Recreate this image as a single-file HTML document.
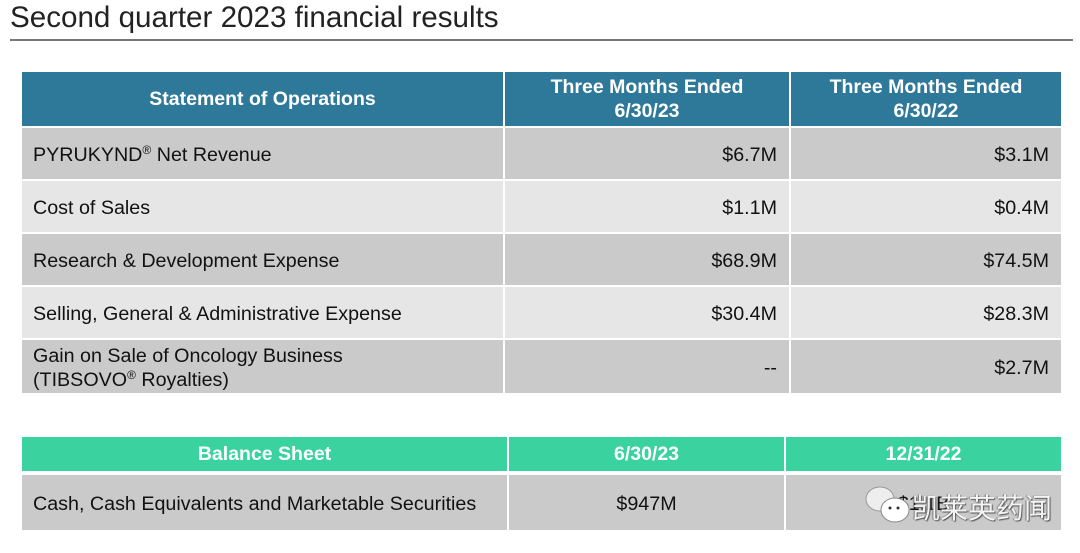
<!DOCTYPE html>
<html><head><meta charset="utf-8"><style>
body{margin:0;width:1080px;height:553px;background:#fff;position:relative;overflow:hidden;font-family:"Liberation Sans","Noto Sans CJK SC",sans-serif;}
.a{position:absolute;box-sizing:border-box;}
.h{color:#fff;font-weight:bold;font-size:19.5px;display:flex;align-items:center;justify-content:center;text-align:center;line-height:24px;}
.c{color:#111;font-size:19.7px;display:flex;align-items:center;line-height:24px;padding-top:3px;}
.l{padding-left:11px;}
.r{justify-content:flex-end;padding-right:12px;}
.m{justify-content:center;}
.b{background:#2e7899;}
.g{background:#3ad39f;}
.d{background:#cacaca;}
.e{background:#e6e6e6;}
sup{font-size:12px;vertical-align:7px;line-height:0;}
</style></head><body>
<div class="a" style="left:10px;top:1px;font-size:29.6px;color:#222;">Second quarter 2023 financial results</div>
<div class="a" style="left:10px;top:39px;width:1063px;height:2px;background:#777;"></div>

<div>
<div class="a h b" style="left:22px;top:72px;width:481px;height:54px;">Statement of Operations</div>
<div class="a h b" style="left:505px;top:72px;width:284px;height:54px;"><span>Three Months Ended<br>6/30/23</span></div>
<div class="a h b" style="left:791px;top:72px;width:270px;height:54px;"><span>Three Months Ended<br>6/30/22</span></div>

<div class="a c l d" style="left:22px;top:128px;width:481px;height:51px;"><span>PYRUKYND<sup>®</sup> Net Revenue</span></div>
<div class="a c r d" style="left:505px;top:128px;width:284px;height:51px;">$6.7M</div>
<div class="a c r d" style="left:791px;top:128px;width:270px;height:51px;">$3.1M</div>

<div class="a c l e" style="left:22px;top:181px;width:481px;height:51px;">Cost of Sales</div>
<div class="a c r e" style="left:505px;top:181px;width:284px;height:51px;">$1.1M</div>
<div class="a c r e" style="left:791px;top:181px;width:270px;height:51px;">$0.4M</div>

<div class="a c l d" style="left:22px;top:234px;width:481px;height:51px;">Research &amp; Development Expense</div>
<div class="a c r d" style="left:505px;top:234px;width:284px;height:51px;">$68.9M</div>
<div class="a c r d" style="left:791px;top:234px;width:270px;height:51px;">$74.5M</div>

<div class="a c l e" style="left:22px;top:287px;width:481px;height:51px;">Selling, General &amp; Administrative Expense</div>
<div class="a c r e" style="left:505px;top:287px;width:284px;height:51px;">$30.4M</div>
<div class="a c r e" style="left:791px;top:287px;width:270px;height:51px;">$28.3M</div>

<div class="a c l d" style="left:22px;top:340px;width:481px;height:53px;"><span>Gain on Sale of Oncology Business<br>(TIBSOVO<sup>®</sup> Royalties)</span></div>
<div class="a c r d" style="left:505px;top:340px;width:284px;height:53px;">--</div>
<div class="a c r d" style="left:791px;top:340px;width:270px;height:53px;">$2.7M</div>
</div>

<div>
<div class="a h g" style="left:22px;top:437px;width:485px;height:34px;">Balance Sheet</div>
<div class="a h g" style="left:509px;top:437px;width:275px;height:34px;">6/30/23</div>
<div class="a h g" style="left:786px;top:437px;width:275px;height:34px;">12/31/22</div>

<div class="a c l d" style="left:22px;top:475px;width:485px;height:55px;">Cash, Cash Equivalents and Marketable Securities</div>
<div class="a c m d" style="left:509px;top:475px;width:275px;height:55px;">$947M</div>
<div class="a c m d" style="left:786px;top:475px;width:275px;height:55px;">$1.1B</div>
</div>

<div class="a" style="left:864px;top:482px;width:190px;height:46px;">
<svg width="52" height="46" style="position:absolute;left:0;top:0">
<ellipse cx="16" cy="17" rx="14" ry="12" fill="#eee" stroke="#999"/>
<ellipse cx="31" cy="28" rx="14" ry="12" fill="#fff" stroke="#888"/>
<circle cx="26" cy="26" r="1.5" fill="#333"/><circle cx="34" cy="26" r="1.5" fill="#333"/>
</svg>
<div style="position:absolute;left:48px;top:5px;font-size:28px;color:#f4f4f4;text-shadow:1px 1px 1px #555,-1px 0 1px #777;">凯莱英药闻</div>
</div>
</body></html>
